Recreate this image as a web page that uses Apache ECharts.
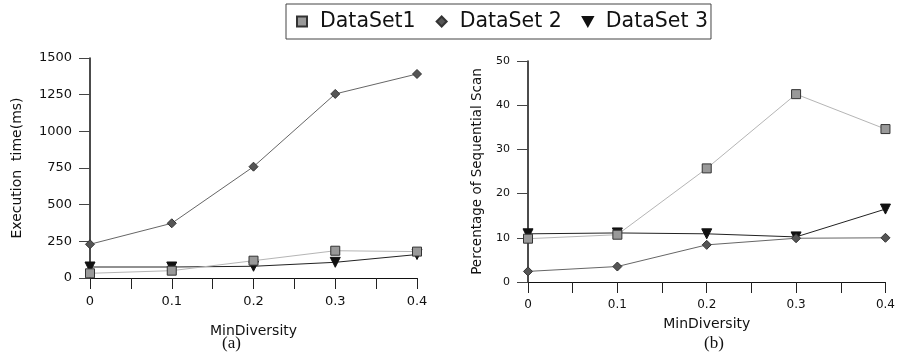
<!DOCTYPE html>
<html>
<head>
<meta charset="utf-8">
<script src="https://cdn.jsdelivr.net/npm/echarts@6/dist/echarts.min.js"></script>
<style>
  html, body { margin: 0; padding: 0; background: #fff; }
  #chart { width: 898px; height: 358px; }
</style>
</head>
<body>
<div id="chart"></div>
<script>
// values
var minDiversity = [0, 0.1, 0.2, 0.3, 0.4]
var execSet1 = [32, 50, 118, 186, 180]
var execSet2 = [230, 373, 759, 1255, 1391]
var execSet3 = [75, 75, 80, 107, 160]
var scanSet1 = [9.8, 10.7, 25.7, 42.5, 34.6]
var scanSet2 = [2.4, 3.5, 8.4, 9.9, 10.0]
var scanSet3 = [10.9, 11.1, 10.9, 10.2, 16.5]
var names = ['DataSet1', 'DataSet 2', 'DataSet 3']

var font = 'DejaVu Sans'
var downTriangle = 'path://M0,0 L10,0 L5,9 Z'

function pairs(ys) {
  return minDiversity.map(function (x, i) { return [x, ys[i]] })
}

function xLabel(v) {
  var k = Math.round(v * 100)
  if (k % 10 !== 0) return ''
  return k === 0 ? '0' : (k / 100).toFixed(1)
}

function makeX(idx, fontSize, nameGap) {
  return {
    gridIndex: idx,
    type: 'value',
    min: 0,
    max: 0.4,
    interval: 0.05,
    name: 'MinDiversity',
    nameLocation: 'middle',
    nameGap: nameGap,
    nameTextStyle: { fontFamily: font, fontSize: 14, color: '#111' },
    axisLine: { lineStyle: { color: '#111', width: 1 } },
    axisTick: { show: true, inside: false, length: 11, lineStyle: { color: '#222' } },
    axisLabel: { formatter: xLabel, fontFamily: font, fontSize: fontSize, color: '#111', margin: 17, showMaxLabel: true },
    splitLine: { show: false }
  }
}

function makeY(idx, max, interval, name, fontSize, nameFont, nameGap) {
  return {
    gridIndex: idx,
    type: 'value',
    min: 0,
    max: max,
    interval: interval,
    name: name,
    nameLocation: 'middle',
    nameGap: nameGap,
    nameTextStyle: { fontFamily: font, fontSize: nameFont, color: '#111' },
    axisLine: { show: true, lineStyle: { color: '#111', width: 1.5 } },
    axisTick: { show: true, inside: false, length: 11, lineStyle: { color: '#444' } },
    axisLabel: { formatter: function (v) { return String(v) }, fontFamily: font, fontSize: fontSize, color: '#111', margin: 18 },
    splitLine: { show: false }
  }
}

var styles = [
  { symbol: 'rect', size: 9, line: '#b5b5b5', fill: '#999', border: '#333' },
  { symbol: 'diamond', size: 9, line: '#666', fill: '#555', border: '#333' },
  { symbol: downTriangle, size: 10, line: '#222', fill: '#111', border: '#111' }
]

function makeSeries(i, gridIdx, ys) {
  var s = styles[i]
  return {
    name: names[i],
    type: 'line',
    xAxisIndex: gridIdx,
    yAxisIndex: gridIdx,
    data: pairs(ys),
    symbol: s.symbol,
    symbolSize: s.size,
    showAllSymbol: true,
    lineStyle: { color: s.line, width: 1 },
    itemStyle: { color: s.fill, borderColor: s.border, borderWidth: 1 },
    z: 3 - i
  }
}

var chart = echarts.init(document.getElementById('chart'))
chart.setOption({
  animation: false,
  backgroundColor: '#fff',
  legend: {
    top: 4,
    left: 286,
    width: 420,
    padding: [7, 3, 7, 10],
    borderColor: '#444',
    borderWidth: 1,
    itemGap: 20,
    itemWidth: 10,
    itemHeight: 10,
    textStyle: { fontFamily: font, fontSize: 20.5, color: '#111', padding: [0, 0, 0, 8] },
    data: [
      { name: names[0], icon: 'rect' },
      { name: names[1], icon: 'diamond' },
      { name: names[2], icon: downTriangle }
    ]
  },
  grid: [
    { left: 90, top: 58, width: 327, height: 220 },
    { left: 528, top: 61, width: 363, height: 221 }
  ],
  xAxis: [makeX(0, 13, 46), makeX(1, 12, 35)],
  yAxis: [
    makeY(0, 1500, 250, 'Execution  time(ms)', 13, 14, 66),
    makeY(1, 50, 10, 'Percentage of Sequential Scan', 11, 13.5, 44)
  ],
  series: [
    makeSeries(0, 0, execSet1),
    makeSeries(1, 0, execSet2),
    makeSeries(2, 0, execSet3),
    makeSeries(0, 1, scanSet1),
    makeSeries(1, 1, scanSet2),
    makeSeries(2, 1, scanSet3)
  ],
  graphic: [
    { type: 'text', left: 222, top: 335, style: { text: '(a)', font: '17px "Liberation Serif"', fill: '#111' } },
    { type: 'text', left: 704, top: 335, style: { text: '(b)', font: '17px "Liberation Serif"', fill: '#111' } }
  ]
})
</script>
</body>
</html>
